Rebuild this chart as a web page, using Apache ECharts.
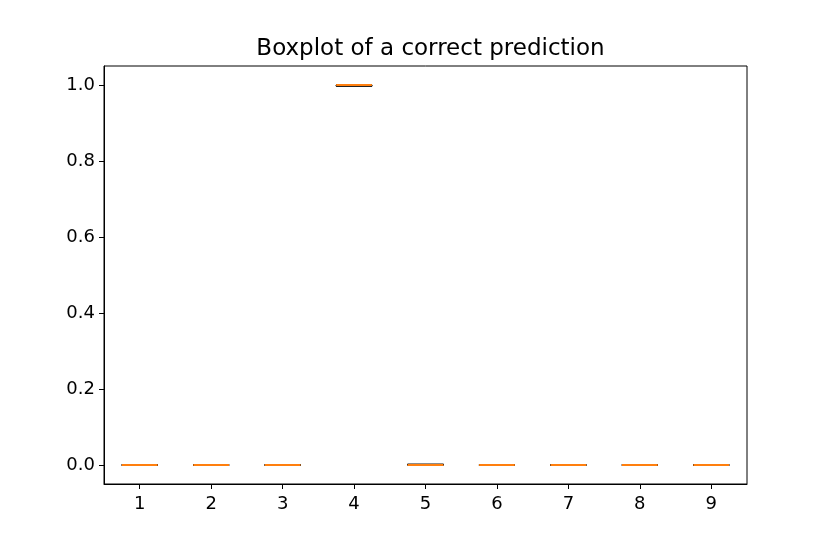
<!DOCTYPE html>
<html><head><meta charset="utf-8">
<script src="https://cdn.jsdelivr.net/npm/echarts@6/dist/echarts.min.js"></script>
<style>html,body{margin:0;padding:0;background:#fff}#c{width:830px;height:554px}</style>
</head><body><div id="c"></div>
<script>
const categories = ['1','2','3','4','5','6','7','8','9'];
// [min, Q1, median, Q3, max]
const boxValues = [
  [0,0,0,0,0],
  [0,0,0,0,0],
  [0,0,0,0,0],
  [0.997,0.997,1.0,1.0,1.0],
  [0,0,0,0.002,0.002],
  [0,0,0,0,0],
  [0,0,0,0,0],
  [0,0,0,0,0],
  [0,0,0,0,0]
];
const medians = boxValues.map(b => b[2]);
const yTicks = [0,0.2,0.4,0.6,0.8,1.0];

const chart = echarts.init(document.getElementById('c'));
const font = 'DejaVu Sans';
chart.setOption({
  animation:false,
  title:{text:'Boxplot of a correct prediction',left:425.5,top:33,textAlign:'center',
    textStyle:{fontFamily:font,fontSize:23,fontWeight:'normal',color:'#000'}},
  grid:{left:104,right:83,top:66,bottom:70,show:true,borderColor:'#000',borderWidth:1,backgroundColor:'transparent'},
  xAxis:{type:'category',data:categories,boundaryGap:true,
    axisLine:{show:true,onZero:false,lineStyle:{color:'#000'}},
    axisTick:{show:true,alignWithLabel:true,length:5,lineStyle:{color:'#000'}},
    axisLabel:{fontFamily:font,fontSize:18,color:'#000',margin:11},
    splitLine:{show:false}},
  yAxis:{type:'value',min:-0.05,max:1.05,
    axisLine:{show:true,lineStyle:{color:'#000'}},
    axisTick:{show:true,length:5,lineStyle:{color:'#000'},customValues:yTicks},
    axisLabel:{fontFamily:font,fontSize:18,color:'#000',margin:9,customValues:yTicks,
      formatter:v=>v.toFixed(1)},
    splitLine:{show:false}},
  series:[
    {type:'boxplot',data:boxValues,boxWidth:[36,36],z:2,
      itemStyle:{color:'transparent',borderColor:'#000',borderWidth:1}},
    {type:'custom',data:medians.map((m,i)=>[i,m]),z:10,
      encode:{x:0,y:1},
      renderItem:function(params,api){
        const p = api.coord([api.value(0),api.value(1)]);
        const w = api.size([1,0])[0]*0.25;
        return {type:'line',shape:{x1:p[0]-w,y1:p[1],x2:p[0]+w,y2:p[1]},
          style:{stroke:'#ff7f0e',lineWidth:2}};
      }}
  ]
});
</script></body></html>
